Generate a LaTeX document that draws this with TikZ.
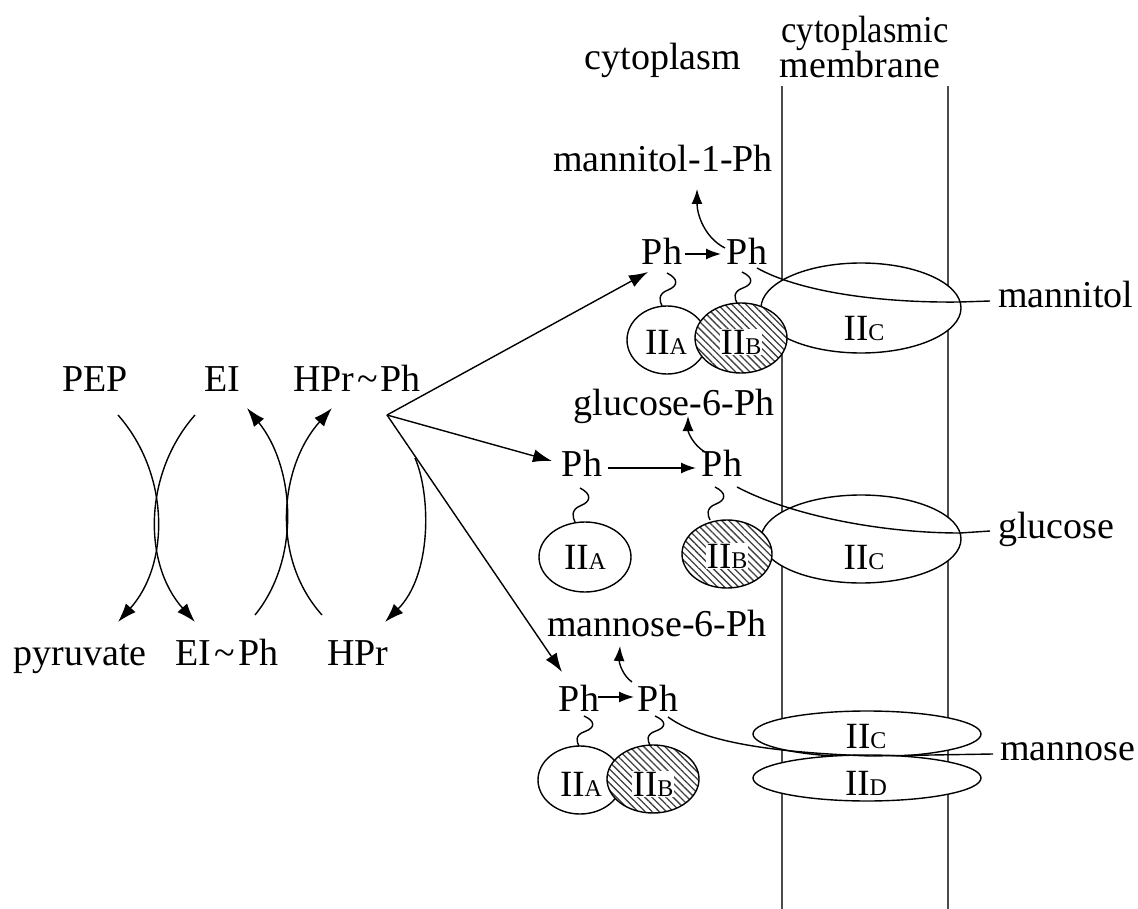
\documentclass[tikz,border=0pt]{standalone}
\usepackage{fontspec}
\setmainfont{Liberation Serif}
\usepackage{graphicx}
\usetikzlibrary{arrows.meta,patterns.meta,shapes.geometric}

% enzyme II domain labels: "II" with a small capital index
\newcommand\domidx[1]{{\fontsize{24}{24}\selectfont #1}}
\newcommand\dom[1]{{\fontsize{37}{37}\selectfont II}\domidx{#1}}
\newcommand\tl{\kern3pt\textasciitilde\kern3pt}

\begin{document}
\begin{tikzpicture}[x=1pt,y=-1pt,
  txt/.style={inner sep=0pt, anchor=base, font=\fontsize{38}{44}\selectfont},
  lbl/.style={inner sep=0pt, anchor=base},
  hlbl/.style={lbl, fill=white, inner sep=0.8pt},
  wire/.style={line width=1.4pt},
  arr/.style={wire, -{Latex[length=19pt,width=13pt]}},
  sarr/.style={wire, -{Latex[length=15pt,width=11pt]}},
  membrane/.style={line width=1.8pt, black!70},
  ell/.style={ellipse, draw, line width=1.4pt, fill=white, inner sep=0pt},
  hatched/.style={ellipse, draw, line width=1.4pt, inner sep=0pt,
    preaction={fill=white},
    pattern={Lines[angle=-45,distance=5pt,line width=1.3pt]}, pattern color=black!75},
  squig/.pic={\draw[wire, yscale=#1/33] (0,0) .. controls (12,6) and (11,13) .. (1,17)
      .. controls (-10,21) and (-7,29) .. (-5,33);},
]
\useasboundingbox (0,0) rectangle (1138,909);

% membrane
\coordinate (mLt) at (782,86);  \coordinate (mLb) at (782,909);
\coordinate (mRt) at (948,86);  \coordinate (mRb) at (948,909);
\draw[membrane] (mLt) -- (mLb);
\draw[membrane] (mRt) -- (mRb);

% headings
\node[txt] (cyto) at (663,70) {cytoplasm};
\node[txt] (cmem1) at (865,43) {\scalebox{0.91}[1]{cytoplasmic}};
\node[txt] (cmem2) at (860,78) {membrane};

% membrane-spanning domains
\node[ell, minimum width=200pt, minimum height=90pt] (c1) at (861,308) {};
\node[ell, minimum width=200pt, minimum height=88pt] (c2) at (861,539) {};
\node[ell, minimum width=228pt, minimum height=46pt] (c3) at (867,734) {};
\node[ell, minimum width=228pt, minimum height=46pt] (d3) at (867,778) {};

% cytoplasmic domains
\node[ell, minimum width=80pt, minimum height=68pt] (a1) at (667,340) {};
\node[hatched, minimum width=92pt, minimum height=70pt] (b1) at (741,338) {};
\node[ell, minimum width=92pt, minimum height=70pt] (a2) at (585,557) {};
\node[hatched, minimum width=90pt, minimum height=68pt] (b2) at (727,554) {};
\node[ell, minimum width=84pt, minimum height=68pt] (a3) at (580,780) {};
\node[hatched, minimum width=92pt, minimum height=68pt] (b3) at (653,779) {};

% domain labels
\node[lbl] (la1) at (666,354) {\dom{A}};
\node[hlbl] (lb1) at (741,354) {\dom{B}};
\node[lbl] (lc1) at (864,341) {\dom{C}};
\node[lbl] (la2) at (585,569) {\dom{A}};
\node[hlbl] (lb2) at (727,568) {\dom{B}};
\node[lbl] (lc2) at (864,569) {\dom{C}};
\node[lbl] (la3) at (581,796) {\dom{A}};
\node[hlbl] (lb3) at (653,796) {\dom{B}};
\node[lbl] (lc3) at (866,748) {\dom{C}};
\node[lbl] (ld3) at (866,795) {\dom{D}};

% general PTS proteins
\node[txt] (pep) at (95,391) {PEP};
\node[txt] (ei) at (222,391) {EI};
\node[txt] (hprp) at (357,391) {HPr\tl Ph};
\node[txt] (pyr) at (80,665) {pyruvate};
\node[txt] (eip) at (227,665) {EI\tl Ph};
\node[txt] (hpr) at (358,665) {HPr};

% phosphoryl groups and products
\node[txt] (m1p) at (663,172) {mannitol-1-Ph};
\node[txt] (pA1) at (662,265) {Ph};
\node[txt] (pB1) at (747,265) {Ph};
\node[txt] (g6p) at (674,415) {glucose-6-Ph};
\node[txt] (pA2) at (582,476) {Ph};
\node[txt] (pB2) at (722,476) {Ph};
\node[txt] (m6p) at (657,636) {mannose-6-Ph};
\node[txt] (pA3) at (579,711) {Ph};
\node[txt] (pB3) at (658,711) {Ph};

% sugars
\node[txt, anchor=base west] (mnt) at (998,308) {mannitol};
\node[txt, anchor=base west] (glc) at (998,538) {glucose};
\node[txt, anchor=base west] (mns) at (1000,760) {mannose};

% phosphoryl tethers
\pic at (667,273) {squig=33};
\pic at (742,272) {squig=31};
\pic at (580,488) {squig=34};
\pic at (715,487) {squig=33};
\pic at (584,716) {squig=30};
\pic at (655,716) {squig=29};

% coupled reactions on the left
\draw[arr] (118,415) .. controls (170,474) and (170,564) .. (118,622);
\draw[arr] (195,415) .. controls (143,474) and (143,564) .. (195,622);
\draw[arr] (255,615) .. controls (302,557) and (294,466) .. (247,408);
\draw[arr] (322,615) .. controls (270,557) and (280,466) .. (332,408);

% phosphoryl transfer from HPr~Ph
\coordinate (fan) at (387,415);
\draw[arr] (fan) -- (648,272);
\draw[arr] (fan) -- (552,461);
\draw[arr] (fan) -- (562,672);
\draw[arr] (415,458) .. controls (431,495) and (432,575) .. (385,622);

% transfer between domains
\draw[sarr] (685,254) -- (721,254);
\draw[sarr] (608,468) -- (696,468);
\draw[sarr] (598,697) -- (634,697);

% release of sugar phosphates
\draw[sarr] (725,248) .. controls (705,238) and (697,215) .. (697,189);
\draw[sarr] (705,452) .. controls (693,445) and (688,432) .. (688,416);
\draw[sarr] (632,682) .. controls (622,675) and (619,662) .. (620,646);

% sugar entry paths
\draw[wire] (757,268) .. controls (800,292) and (880,303) .. (960,302) -- (990,301);
\draw[wire] (737,487) .. controls (790,515) and (880,533) .. (960,533) -- (990,531);
\draw[wire] (668,717) .. controls (700,740) and (760,752) .. (870,756) -- (993,754);
\end{tikzpicture}
\end{document}
